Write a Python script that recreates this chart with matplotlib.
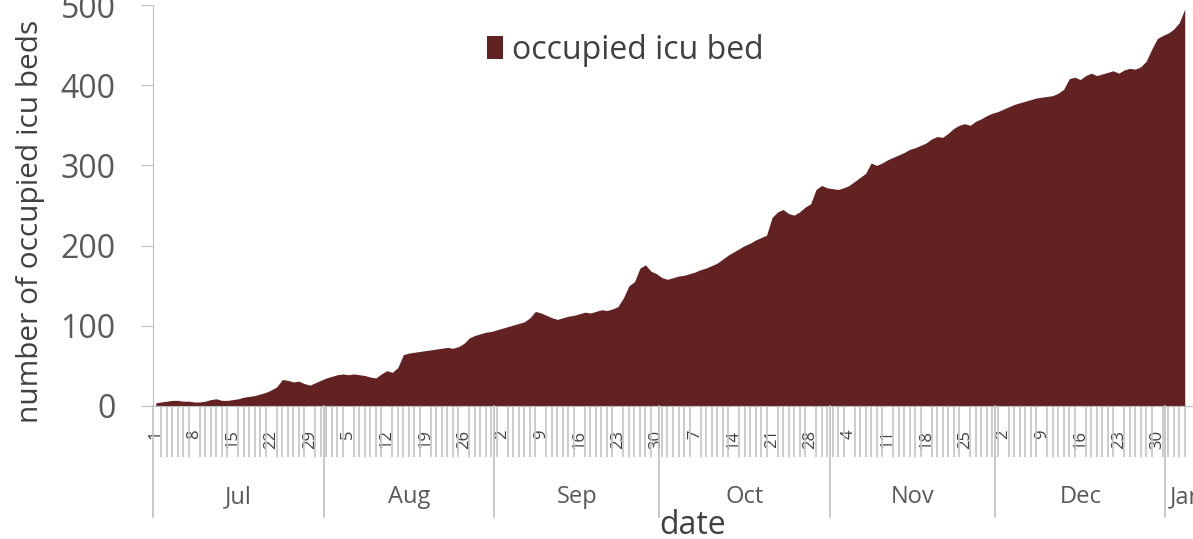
import numpy as np
import matplotlib.pyplot as plt
from matplotlib import transforms

# ---------------- DATA (daily occupied ICU beds, 1 Jul -> 4 Jan) ---------------- #

jul = [4, 5, 6, 7, 7, 6, 6, 5, 5, 6, 8, 9, 7, 7, 8, 9, 11, 12, 13, 15,
       17, 20, 24, 33, 32, 30, 31, 28, 26, 29, 32]
aug = [35, 37, 39, 40, 39, 40, 39, 38, 36, 35, 40, 44, 42, 48, 64, 66, 67, 68,
       69, 70, 71, 72, 73, 72, 74, 78, 85, 88, 90, 92, 93]
sep = [95, 97, 99, 101, 103, 105, 110, 118, 116, 113, 110, 108, 110, 112, 113,
       115, 117, 116, 118, 120, 119, 121, 124, 135, 150, 155, 172, 176, 168, 165]
oct_ = [160, 158, 160, 162, 163, 165, 167, 170, 172, 175, 178, 183, 188, 192,
        196, 200, 203, 207, 210, 213, 235, 242, 245, 240, 238, 242, 248, 252,
        270, 275, 272]
nov = [271, 270, 272, 275, 280, 285, 290, 303, 300, 303, 307, 310, 313, 316,
       320, 322, 325, 328, 333, 336, 335, 340, 346, 350, 352, 350, 355, 358,
       362, 365]
dec = [367, 370, 373, 376, 378, 380, 382, 384, 385, 386, 387, 390, 395, 408,
       410, 407, 412, 415, 412, 414, 416, 418, 415, 419, 421, 420, 423, 430,
       445, 458, 462]
jan = [465, 470, 478, 495]

months = ["Jul", "Aug", "Sep", "Oct", "Nov", "Dec", "Jan"]
month_days = [jul, aug, sep, oct_, nov, dec, jan]
month_lengths = [31, 31, 30, 31, 30, 31, 31]

beds = np.concatenate(month_days)
day_of_month = np.concatenate([np.arange(1, len(m) + 1) for m in month_days])
x = np.arange(len(beds))

# ---------------- PLOT ---------------- #

plt.rcParams["font.family"] = ["Open Sans", "DejaVu Sans"]
fill_color = "#632222"
grey_line = "#bfbfbf"
text_grey = "#595959"

W, H = 1193, 539
fig = plt.figure(figsize=(W / 100, H / 100), dpi=100)
ax = fig.add_axes([153 / W, 133 / H, 1 - 153 / W, 401 / H])

ax.fill_between(x, 0, beds, color=fill_color, linewidth=0, label="occupied icu bed")

ax.set_xlim(-0.5, 188.5)
ax.set_ylim(0, 500)

# y axis
ax.set_yticks([0, 100, 200, 300, 400, 500])
ax.tick_params(axis="y", length=9, color=grey_line, labelsize=23,
               labelcolor=text_grey, pad=18)
for s in ["top", "right"]:
    ax.spines[s].set_visible(False)
ax.spines["left"].set_color(grey_line)
ax.spines["bottom"].set_color(grey_line)
ax.set_ylabel("number of occupied icu beds", fontsize=21.5, color="#404040")
ax.yaxis.set_label_coords(-0.104, 0.46)

# x axis: every day a tick, every 7th day a label
ax.set_xticks(x, minor=True)
ax.set_xticks(x[::7])
ax.set_xticklabels([str(d) for d in day_of_month[::7]], rotation=90)
ax.tick_params(axis="x", which="minor", length=37, color="#c4c4c4", width=1.2)
ax.tick_params(axis="x", which="major", length=0, labelsize=12,
               labelcolor="#404040", pad=17)

# month groups below the day labels
trans = transforms.blended_transform_factory(ax.transData, ax.transAxes)
start = 0
for name, n in zip(months, month_lengths):
    ax.plot([start - 0.5, start - 0.5], [0, -0.277], color=grey_line, lw=1.2,
            transform=trans, clip_on=False)
    if name == "Jan":
        ax.text(start + 0.3, -0.227, name, transform=trans, ha="left", va="center",
                fontsize=17, color=text_grey, clip_on=False)
    else:
        ax.text(start - 0.5 + n / 2, -0.227, name, transform=trans, ha="center",
                va="center", fontsize=17, color=text_grey, clip_on=False)
    start += n

fig.text(693 / W, 1 - 526 / H, "date", ha="center", va="center",
         fontsize=23, color="#404040")

ax.legend(loc="upper left", bbox_to_anchor=(305 / (W - 153), 1.0), frameon=False,
          fontsize=23, handlelength=0.5, handleheight=0.7, handletextpad=0.3,
          labelcolor="#404040")

fig.savefig("out.png", dpi=100)
